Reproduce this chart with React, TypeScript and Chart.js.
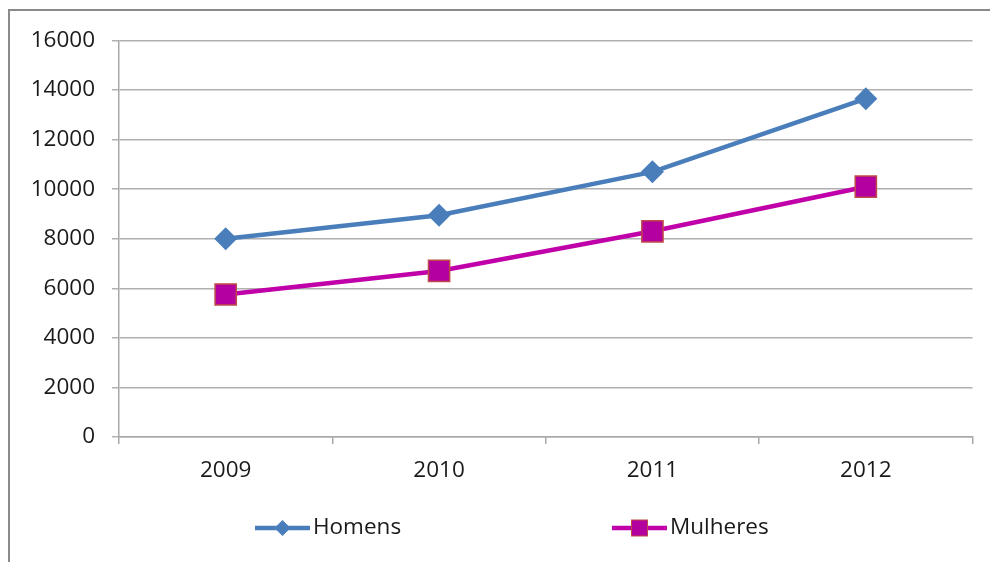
import React, { useEffect, useRef } from "react";
import { Chart, registerables } from "chart.js";

Chart.register(...registerables);

const categories = ["2009", "2010", "2011", "2012"];
const homens = [8000, 8950, 10700, 13650];
const mulheres = [5750, 6700, 8300, 10100];
const yTicks = [0, 2000, 4000, 6000, 8000, 10000, 12000, 14000, 16000];

const FONT = "'Open Sans', Lato, sans-serif";
const BLUE = "#4A7EBB";
const MAGENTA = "#C000A8";

const legendPlugin = {
  id: "lineLegend",
  afterDraw(chart: any) {
    const ctx = chart.ctx;
    const starts = [246, 603];
    const y = 518;
    chart.data.datasets.forEach((ds: any, i: number) => {
      const x0 = starts[i];
      ctx.save();
      ctx.strokeStyle = ds.borderColor;
      ctx.lineWidth = 4.5;
      ctx.beginPath();
      ctx.moveTo(x0, y);
      ctx.lineTo(x0 + 55, y);
      ctx.stroke();
      ctx.fillStyle = ds.pointBackgroundColor;
      ctx.strokeStyle = ds.pointBorderColor;
      ctx.lineWidth = 1;
      const cx = x0 + 27.5;
      if (ds.pointStyle === "rectRot") {
        ctx.beginPath();
        ctx.moveTo(cx, y - 8);
        ctx.lineTo(cx + 8, y);
        ctx.lineTo(cx, y + 8);
        ctx.lineTo(cx - 8, y);
        ctx.closePath();
        ctx.fill();
      } else {
        ctx.fillRect(cx - 8, y - 8, 16, 16);
        ctx.strokeRect(cx - 8, y - 8, 16, 16);
      }
      ctx.fillStyle = "#1a1a1a";
      ctx.font = `22.5px ${FONT}`;
      ctx.textBaseline = "middle";
      ctx.textAlign = "left";
      ctx.fillText(ds.label, x0 + 58, y);
      ctx.restore();
    });
  },
};

export default function App() {
  const ref = useRef<HTMLCanvasElement>(null);
  useEffect(() => {
    if (!ref.current) return;
    const chart = new Chart(ref.current, {
      type: "line",
      data: {
        labels: categories,
        datasets: [
          {
            label: "Homens",
            data: homens,
            borderColor: BLUE,
            backgroundColor: BLUE,
            borderWidth: 4.5,
            pointStyle: "rectRot",
            pointRadius: 11.5,
            pointBackgroundColor: "#4A7EBB",
            pointBorderColor: "#4A7EBB",
            pointBorderWidth: 0,
            tension: 0,
          },
          {
            label: "Mulheres",
            data: mulheres,
            borderColor: MAGENTA,
            backgroundColor: MAGENTA,
            borderWidth: 4.5,
            pointStyle: "rect",
            pointRadius: 15,
            pointBackgroundColor: "#B4009E",
            pointBorderColor: "#BE4B48",
            pointBorderWidth: 1.5,
            tension: 0,
          },
        ],
      },
      options: {
        animation: false,
        responsive: false,
        maintainAspectRatio: false,
        layout: { padding: { top: 30, right: 6, left: 0, bottom: 0 } },
        plugins: { legend: { display: false }, tooltip: { enabled: false } },
        scales: {
          x: {
            offset: true,
            grid: {
              offset: true,
              drawOnChartArea: false,
              tickLength: 7,
              color: "#a8a8a8",
              lineWidth: 1.5,
            },
            border: { color: "#a8a8a8", width: 1.5 },
            ticks: { color: "#1a1a1a", font: { family: FONT, size: 22.5 }, padding: 13 },
            afterFit(scale: any) {
              scale.height = 125;
            },
          },
          y: {
            min: 0,
            max: 16000,
            afterBuildTicks(scale: any) {
              scale.ticks = yTicks.map((v) => ({ value: v }));
            },
            grid: { color: "#b0b0b0", lineWidth: 1.5, tickLength: 7 },
            border: { color: "#a8a8a8", width: 1.5 },
            ticks: {
              color: "#1a1a1a",
              font: { family: FONT, size: 22.5 },
              padding: 17,
              callback: (v: any) => String(v),
            },
            afterFit(scale: any) {
              scale.width = 110;
            },
          },
        },
      },
      plugins: [legendPlugin],
    });
    return () => chart.destroy();
  }, []);
  return (
    <div style={{ position: "fixed", left: 0, top: 0, width: 990, height: 562, background: "#fff" }}>
      <div
        style={{
          position: "absolute",
          left: 8,
          top: 9,
          right: -4,
          bottom: -4,
          borderLeft: "2px solid #8a8a8a",
          borderTop: "2px solid #8a8a8a",
        }}
      />
      <canvas ref={ref} width={980} height={552} style={{ position: "absolute", left: 9, top: 10 }} />
    </div>
  );
}
